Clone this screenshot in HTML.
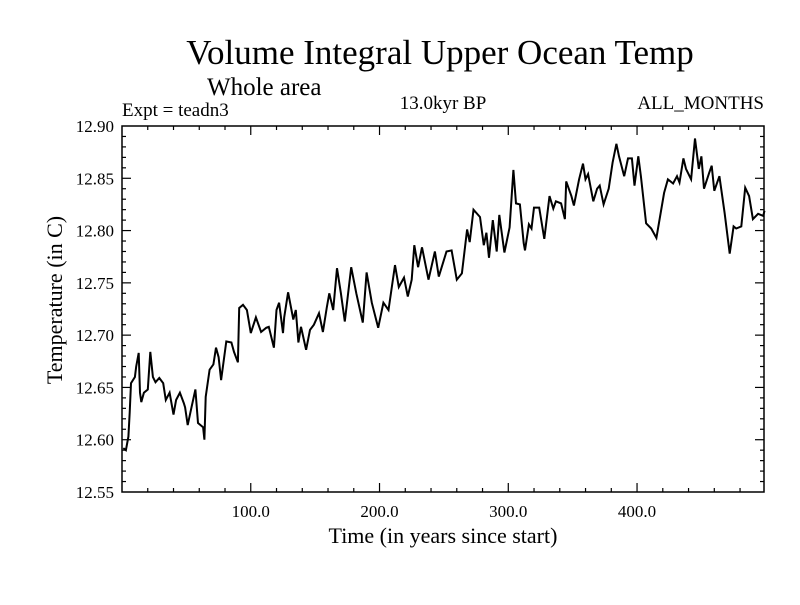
<!DOCTYPE html>
<html><head><meta charset="utf-8"><style>
body{margin:0;background:#fff}
svg text{font-family:"Liberation Serif",serif;fill:#000}
</style></head><body>
<svg width="800" height="600" viewBox="0 0 800 600">
<text x="440" y="64" font-size="35" text-anchor="middle">Volume Integral Upper Ocean Temp</text>
<text x="207" y="95" font-size="25">Whole area</text>
<text x="122" y="116" font-size="19">Expt = teadn3</text>
<text x="443" y="109" font-size="19" text-anchor="middle">13.0kyr BP</text>
<text x="764" y="109" font-size="19" text-anchor="end">ALL_MONTHS</text>
<text x="443" y="543" font-size="22" text-anchor="middle">Time (in years since start)</text>
<text transform="translate(62,300) rotate(-90)" font-size="22" text-anchor="middle">Temperature (in C)</text>
<g id="axes"></g>
<path id="line" fill="none" stroke="#000" stroke-width="2"/>
<rect x="122" y="126" width="642" height="366" fill="none" stroke="#000" stroke-width="1.5"/>
</svg>
<script>
const years=[1,3,5,6,7,10,11,13,14,15,17,20,22,24,26,29,32,34,37,40,42,45,48,49,51,54,57,59,63,64,65,68,71,73,75,77,81,85,87,90,91,94,97,100,104,108,112,114,118,120,122,125,126,129,133,135,137,139,143,146,149,153,156,159,161,164,167,170,173,178,182,187,190,194,199,203,207,212,215,219,222,225,227,230,233,238,243,246,252,256,260,264,268,270,273,278,281,283,285,288,291,293,297,301,304,306,309,312,313,316,318,320,324,328,332,335,337,341,344,345,349,351,355,358,360,362,366,369,371,374,378,381,384,386,390,393,396,398,401,403,407,411,415,417,421,424,428,431,433,436,438,442,445,448,450,452,456,458,460,464,468,472,475,477,481,484,487,490,494,498,499];
const temps=[12.592,12.590,12.603,12.626,12.654,12.660,12.670,12.683,12.645,12.636,12.645,12.648,12.684,12.660,12.655,12.659,12.654,12.638,12.645,12.624,12.638,12.645,12.635,12.631,12.614,12.631,12.648,12.616,12.612,12.600,12.641,12.667,12.672,12.688,12.679,12.657,12.694,12.693,12.684,12.674,12.726,12.729,12.724,12.702,12.717,12.703,12.707,12.708,12.688,12.724,12.731,12.702,12.717,12.741,12.715,12.724,12.693,12.708,12.686,12.705,12.710,12.721,12.703,12.726,12.740,12.724,12.764,12.740,12.713,12.765,12.740,12.712,12.760,12.731,12.707,12.731,12.724,12.767,12.746,12.755,12.737,12.753,12.786,12.765,12.784,12.753,12.780,12.756,12.780,12.781,12.753,12.759,12.801,12.789,12.820,12.813,12.786,12.798,12.774,12.810,12.780,12.815,12.779,12.803,12.858,12.826,12.825,12.788,12.781,12.806,12.802,12.822,12.822,12.792,12.833,12.821,12.828,12.826,12.811,12.847,12.833,12.824,12.849,12.864,12.849,12.854,12.828,12.840,12.843,12.825,12.840,12.865,12.883,12.871,12.852,12.869,12.869,12.843,12.871,12.852,12.807,12.802,12.793,12.807,12.836,12.849,12.845,12.852,12.846,12.869,12.859,12.849,12.888,12.859,12.871,12.840,12.855,12.862,12.838,12.852,12.817,12.778,12.804,12.802,12.804,12.841,12.833,12.811,12.816,12.814,12.819];
const xTicks=[100,200,300,400];
const xTickLabels=["100.0","200.0","300.0","400.0"];
const yTicks=[12.55,12.60,12.65,12.70,12.75,12.80,12.85,12.90];
const yTickLabels=["12.55","12.60","12.65","12.70","12.75","12.80","12.85","12.90"];
const X0=122,X1=764,Y0=492,Y1=126,XMIN=0,XMAX=498.6,YMIN=12.55,YMAX=12.90;
const sx=v=>X0+(v-XMIN)/(XMAX-XMIN)*(X1-X0);
const sy=v=>Y0-(v-YMIN)/(YMAX-YMIN)*(Y0-Y1);
const NS="http://www.w3.org/2000/svg";
const g=document.getElementById('axes');
function ln(x1,y1,x2,y2,name){const l=document.createElementNS(NS,'line');l.setAttribute('x1',x1);l.setAttribute('y1',y1);l.setAttribute('x2',x2);l.setAttribute('y2',y2);l.setAttribute('stroke','#000');l.setAttribute('stroke-width','1.2');


g.appendChild(l);}
function tx(x,y,s,anchor,name){const t=document.createElementNS(NS,'text');t.setAttribute('x',x);t.setAttribute('y',y);t.setAttribute('font-size','17');t.setAttribute('text-anchor',anchor);t.textContent=s;


g.appendChild(t);}
for(let v=20;v<XMAX;v+=20){const x=sx(v);const len=(v%100===0)?9:4;ln(x,Y0,x,Y0-len,'x-tick');ln(x,Y1,x,Y1+len,'x-tick-top');}
xTicks.forEach((v,i)=>tx(sx(v),517,xTickLabels[i],'middle','x-tick-label'));
for(let k=1;k<35;k++){const v=YMIN+k*0.01;const y=sy(v);const len=(k%5===0)?9:4;ln(X0,y,X0+len,y,'y-tick');ln(X1,y,X1-len,y,'y-tick-right');}
yTicks.forEach((v,i)=>tx(114,sy(v)+6,yTickLabels[i],'end','y-tick-label'));
document.getElementById('line').setAttribute('d',years.map((yr,i)=>(i?'L':'M')+sx(yr).toFixed(1)+','+sy(temps[i]).toFixed(1)).join(''));
</script>
</body></html>
